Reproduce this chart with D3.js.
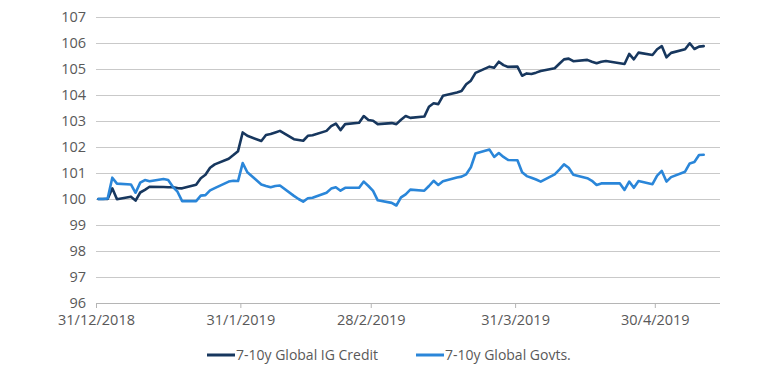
<!DOCTYPE html>
<html><head><meta charset="utf-8">
<script src="https://cdn.jsdelivr.net/npm/d3@7"></script>
<style>
html,body{margin:0;padding:0;background:#fff;}
svg text{font-family:"Open Sans",sans-serif;fill:#595959;}
</style></head>
<body><svg id="chart" width="780" height="374"></svg>
<script>
const dates = ["2018-12-31","2019-01-01","2019-01-02","2019-01-03","2019-01-04",
"2019-01-07","2019-01-08","2019-01-09","2019-01-10","2019-01-11",
"2019-01-14","2019-01-15","2019-01-16","2019-01-17","2019-01-18",
"2019-01-21","2019-01-22","2019-01-23","2019-01-24","2019-01-25",
"2019-01-28","2019-01-29","2019-01-30","2019-01-31","2019-02-01",
"2019-02-04","2019-02-05","2019-02-06","2019-02-07","2019-02-08",
"2019-02-11","2019-02-12","2019-02-13","2019-02-14","2019-02-15",
"2019-02-18","2019-02-19","2019-02-20","2019-02-21","2019-02-22",
"2019-02-25","2019-02-26","2019-02-27","2019-02-28","2019-03-01",
"2019-03-04","2019-03-05","2019-03-06","2019-03-07","2019-03-08",
"2019-03-11","2019-03-12","2019-03-13","2019-03-14","2019-03-15",
"2019-03-18","2019-03-19","2019-03-20","2019-03-21","2019-03-22",
"2019-03-25","2019-03-26","2019-03-27","2019-03-28","2019-03-29","2019-03-31",
"2019-04-01","2019-04-02","2019-04-03","2019-04-04","2019-04-05",
"2019-04-08","2019-04-09","2019-04-10","2019-04-11","2019-04-12",
"2019-04-15","2019-04-16","2019-04-17","2019-04-18","2019-04-19",
"2019-04-22","2019-04-23","2019-04-24","2019-04-25","2019-04-26",
"2019-04-29","2019-04-30","2019-05-01","2019-05-02","2019-05-03",
"2019-05-06","2019-05-07","2019-05-08","2019-05-09","2019-05-10"];

const credit = [100.00,100.00,100.00,100.41,99.99,
100.09,99.94,100.25,100.35,100.47,
100.46,100.45,100.45,100.42,100.41,
100.55,100.80,100.93,101.20,101.33,
101.55,101.69,101.84,102.56,102.43,
102.23,102.46,102.50,102.56,102.62,
102.30,102.27,102.24,102.43,102.45,
102.62,102.80,102.90,102.65,102.88,
102.93,103.19,103.04,103.01,102.88,
102.92,102.88,103.05,103.19,103.12,
103.17,103.55,103.68,103.65,103.97,
104.10,104.15,104.41,104.55,104.85,
105.09,105.05,105.28,105.15,105.08,105.09,
104.74,104.83,104.81,104.86,104.92,
105.03,105.20,105.37,105.40,105.30,
105.35,105.28,105.22,105.28,105.31,
105.22,105.19,105.58,105.37,105.63,
105.54,105.76,105.88,105.45,105.62,
105.76,105.99,105.77,105.86,105.88];

const govts = [100.00,100.00,100.02,100.82,100.59,
100.56,100.24,100.63,100.73,100.68,
100.77,100.73,100.47,100.28,99.92,
99.92,100.13,100.15,100.33,100.42,
100.67,100.70,100.69,101.38,101.03,
100.56,100.50,100.45,100.50,100.52,
100.12,100.00,99.90,100.03,100.05,
100.24,100.40,100.45,100.32,100.43,
100.43,100.67,100.50,100.31,99.95,
99.85,99.75,100.06,100.18,100.36,
100.32,100.50,100.70,100.54,100.68,
100.83,100.86,100.95,101.22,101.75,
101.90,101.62,101.77,101.62,101.50,101.49,
101.03,100.88,100.82,100.75,100.67,
100.95,101.13,101.33,101.20,100.93,
100.80,100.70,100.54,100.60,100.60,
100.60,100.35,100.67,100.43,100.69,
100.57,100.90,101.08,100.67,100.84,
101.05,101.37,101.42,101.69,101.70];

const seriesNames = ["7-10y Global IG Credit","7-10y Global Govts."];
const seriesColors = ["#17375e","#2a86d9"];
const yTicks = [96,97,98,99,100,101,102,103,104,105,106,107];
const xTickLabels = ["2018-12-31","2019-01-31","2019-02-28","2019-03-31","2019-04-30"];
const xDomain = ["2018-12-31","2019-05-14"];

const parse = d3.utcParse("%Y-%m-%d");
const fmt = d3.utcFormat("%-d/%-m/%Y");
const svg = d3.select("#chart");
const m = {left:96, right:60, top:17, bottom:71};
const W = 780, H = 374;

const x = d3.scaleUtc().domain(xDomain.map(parse)).range([m.left, W - m.right]);
const y = d3.scaleLinear().domain([96,107]).range([H - m.bottom, m.top]);
const halfDay = (x(parse("2019-01-02")) - x(parse("2019-01-01"))) / 2;

// gridlines
svg.append("g").selectAll("line").data(yTicks.filter(t => t !== 96)).join("line")
  .attr("x1", m.left).attr("x2", W - m.right)
  .attr("y1", d => y(d)).attr("y2", d => y(d))
  .attr("stroke", "#c9c9c9").attr("stroke-width", 1).attr("shape-rendering","crispEdges");

// y axis labels
const yAxis = svg.append("g").attr("transform", `translate(${m.left},0)`)
  .call(d3.axisLeft(y).tickValues(yTicks).tickSize(0).tickPadding(10).tickFormat(d3.format("d")));
yAxis.select(".domain").remove();
yAxis.selectAll("text").attr("font-size", "14.5px").attr("font-family", "Open Sans").attr("fill", "#595959");

// x axis
const xAxis = svg.append("g").attr("transform", `translate(0,${y(96)})`)
  .call(d3.axisBottom(x).tickValues(xTickLabels.map(parse)).tickSize(5).tickPadding(7).tickFormat(fmt));
xAxis.select(".domain").attr("stroke", "#b5b5b5").attr("d", `M${m.left},0.5H${W - m.right}`);
xAxis.selectAll(".tick line").attr("stroke", "#b5b5b5");
xAxis.selectAll("text").attr("font-size", "14.5px").attr("font-family", "Open Sans").attr("fill", "#595959");

// lines
const allSeries = [credit, govts];
const line = d3.line().x(d => x(d[0]) + halfDay).y(d => y(d[1])).curve(d3.curveLinear);
allSeries.forEach((vals, i) => {
  const pts = dates.map((dt, j) => [parse(dt), vals[j]]);
  svg.append("path").datum(pts).attr("d", line)
    .attr("fill", "none").attr("stroke", seriesColors[i]).attr("stroke-width", 2.6)
    .attr("stroke-linejoin", "round").attr("stroke-linecap", "round");
});

// legend
const legendItems = [{x:207}, {x:416}];
legendItems.forEach((li, i) => {
  const g = svg.append("g").attr("transform", `translate(${li.x},355)`);
  g.append("line").attr("x1", 0).attr("x2", 28).attr("y1", 0).attr("y2", 0)
    .attr("stroke", seriesColors[i]).attr("stroke-width", 3);
  g.append("text").attr("x", 29).attr("y", 0).attr("dy", "0.35em")
    .attr("font-size", "14px").text(seriesNames[i]);
});
</script></body></html>
